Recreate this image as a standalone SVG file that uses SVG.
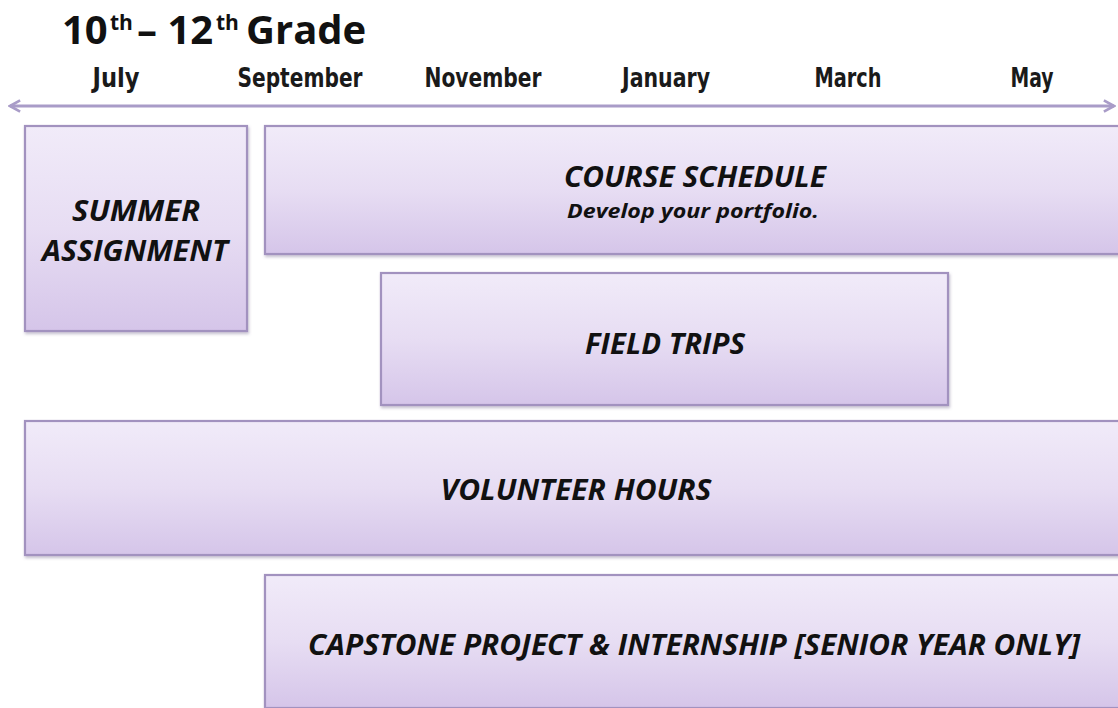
<svg xmlns="http://www.w3.org/2000/svg" width="1118" height="708" viewBox="0 0 1118 708">
<defs>
<linearGradient id="boxfill" x1="0" y1="0" x2="0" y2="1">
<stop offset="0" stop-color="#f1ebf9"/>
<stop offset="0.5" stop-color="#e7ddf3"/>
<stop offset="1" stop-color="#d5c5e9"/>
</linearGradient>
<filter id="sh" x="-5%" y="-5%" width="110%" height="115%">
<feDropShadow dx="1" dy="2" stdDeviation="1.5" flood-color="#6f5f88" flood-opacity="0.4"/>
</filter>
<marker id="arr" viewBox="0 0 12 12" refX="10" refY="6" markerWidth="4.5" markerHeight="4.5" orient="auto-start-reverse" markerUnits="strokeWidth">
<path d="M1,1 L10,6 L1,11" fill="none" stroke="#a99cc8" stroke-width="2.4"/>
</marker>
<style>
.box{fill:url(#boxfill);stroke:#a292bf;stroke-width:2.2;filter:url(#sh)}
.lbl{font-family:"Open Sans","Liberation Sans",sans-serif;font-weight:bold;font-style:italic;fill:#111;text-anchor:middle}
.mon{font-family:"DejaVu Sans Condensed","DejaVu Sans",sans-serif;font-weight:bold;font-size:26px;fill:#1a1a1a;text-anchor:middle}
.ttl{font-family:"Open Sans","Liberation Sans",sans-serif;font-weight:bold;fill:#111;font-size:40px}
.sup{font-family:"Open Sans","Liberation Sans",sans-serif;font-weight:bold;fill:#111;font-size:21px}
</style>
</defs>
<rect width="1118" height="708" fill="#ffffff"/>
<g id="title">
<text class="ttl" x="62" y="44">10</text>
<text class="sup" x="110" y="30">th</text>
<text class="ttl" x="137" y="44">– 12</text>
<text class="sup" x="216" y="30">th</text>
<text class="ttl" x="246" y="44">Grade</text>
</g>
<g id="months">
<text class="mon" x="116" y="87" textLength="47" lengthAdjust="spacingAndGlyphs">July</text>
<text class="mon" x="300" y="87" textLength="125" lengthAdjust="spacingAndGlyphs">September</text>
<text class="mon" x="483" y="87" textLength="117" lengthAdjust="spacingAndGlyphs">November</text>
<text class="mon" x="666" y="87" textLength="88" lengthAdjust="spacingAndGlyphs">January</text>
<text class="mon" x="848" y="87" textLength="67" lengthAdjust="spacingAndGlyphs">March</text>
<text class="mon" x="1032" y="87" textLength="43" lengthAdjust="spacingAndGlyphs">May</text>
</g>
<g id="connectors">
<line x1="10" y1="106" x2="1114" y2="106" stroke="#a99cc8" stroke-width="3" marker-start="url(#arr)" marker-end="url(#arr)"/>
</g>
<g id="summer-assignment">
<rect class="box" x="25" y="126" width="222" height="205"/>
<text class="lbl" x="136" y="221" font-size="29" textLength="128" lengthAdjust="spacingAndGlyphs">SUMMER</text>
<text class="lbl" x="135" y="261" font-size="29" textLength="186" lengthAdjust="spacingAndGlyphs">ASSIGNMENT</text>
</g>
<g id="course-schedule">
<rect class="box" x="265" y="126" width="870" height="128"/>
<text class="lbl" x="695" y="187" font-size="29" textLength="262" lengthAdjust="spacingAndGlyphs">COURSE SCHEDULE</text>
<text class="lbl" x="693" y="218" font-size="20" textLength="252" lengthAdjust="spacingAndGlyphs">Develop your portfolio.</text>
</g>
<g id="field-trips">
<rect class="box" x="381" y="273" width="567" height="132"/>
<text class="lbl" x="665" y="354" font-size="29" textLength="160" lengthAdjust="spacingAndGlyphs">FIELD TRIPS</text>
</g>
<g id="volunteer-hours">
<rect class="box" x="25" y="421" width="1110" height="134"/>
<text class="lbl" x="576" y="500" font-size="29" textLength="271" lengthAdjust="spacingAndGlyphs">VOLUNTEER HOURS</text>
</g>
<g id="capstone">
<rect class="box" x="265" y="575" width="870" height="133"/>
<text class="lbl" x="694" y="655" font-size="29" textLength="772" lengthAdjust="spacingAndGlyphs">CAPSTONE PROJECT &amp; INTERNSHIP [SENIOR YEAR ONLY]</text>
</g>
</svg>
